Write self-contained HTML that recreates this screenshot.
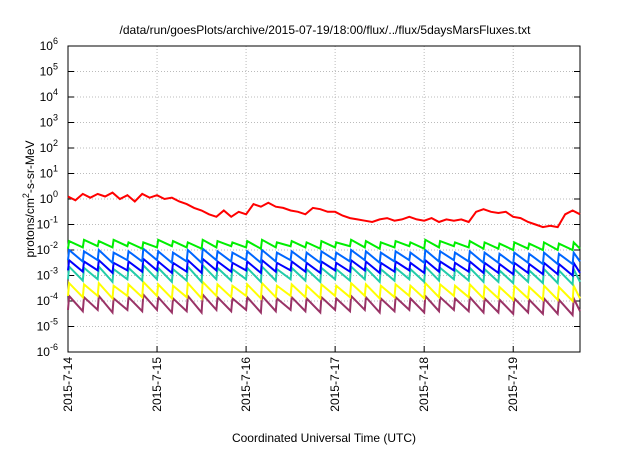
<!DOCTYPE html>
<html><head><meta charset="utf-8"><style>
body{margin:0;background:#fff;}
svg text{font-family:"Liberation Sans",sans-serif;fill:#000;}
</style></head><body>
<svg id="c" width="640" height="448"></svg>
<script>
const dayLabels=["2015-7-14","2015-7-15","2015-7-16","2015-7-17","2015-7-18","2015-7-19"];
const yExponents=[-6,-5,-4,-3,-2,-1,0,1,2,3,4,5,6];
const redHours=[0,2,4,6,8,10,12,14,16,18,20,22,24,26,28,30,32,34,36,38,40,42,44,46,48,50,52,54,56,58,60,62,64,66,68,70,72,74,76,78,80,82,84,86,88,90,92,94,96,98,100,102,104,106,108,110,112,114,116,118,120,122,124,126,128,130,132,134,136,138];
const redLog=[0.1,-0.05,0.2,0.05,0.2,0.1,0.25,0.0,0.15,-0.1,0.2,0.05,0.15,0.0,0.05,-0.1,-0.2,-0.35,-0.45,-0.6,-0.7,-0.45,-0.7,-0.5,-0.6,-0.2,-0.3,-0.15,-0.3,-0.35,-0.45,-0.5,-0.6,-0.35,-0.4,-0.5,-0.5,-0.65,-0.75,-0.8,-0.85,-0.9,-0.8,-0.75,-0.85,-0.8,-0.7,-0.8,-0.85,-0.75,-0.9,-0.8,-0.85,-0.8,-0.9,-0.5,-0.4,-0.5,-0.55,-0.5,-0.7,-0.75,-0.9,-1.0,-1.1,-1.05,-1.1,-0.6,-0.45,-0.6];
const hours=[0,0.3,4,4.3,8,8.3,12,12.3,16,16.3,20,20.3,24,24.3,28,28.3,32,32.3,36,36.3,40,40.3,44,44.3,48,48.3,52,52.3,56,56.3,60,60.3,64,64.3,68,68.3,72,72.3,76,76.3,80,80.3,84,84.3,88,88.3,92,92.3,96,96.3,100,100.3,104,104.3,108,108.3,112,112.3,116,116.3,120,120.3,124,124.3,128,128.3,132,132.3,136,136.3,138];
const greenLog=[-1.95,-1.65,-1.9,-1.6,-1.85,-1.65,-1.9,-1.6,-1.85,-1.7,-1.95,-1.7,-1.9,-1.6,-1.85,-1.65,-1.9,-1.7,-1.95,-1.6,-1.9,-1.65,-1.85,-1.7,-1.9,-1.65,-1.95,-1.6,-1.9,-1.7,-1.85,-1.65,-1.9,-1.7,-1.95,-1.65,-1.9,-1.7,-1.85,-1.6,-1.9,-1.65,-1.95,-1.7,-1.9,-1.65,-1.85,-1.7,-1.95,-1.6,-1.9,-1.65,-1.85,-1.7,-1.9,-1.65,-1.95,-1.7,-1.95,-1.75,-2.0,-1.7,-1.95,-1.75,-2.0,-1.7,-2.0,-1.75,-2.0,-1.7,-1.95];
const lightBlueLog=[-2.4,-2.0,-2.45,-2.05,-2.4,-2.0,-2.5,-2.1,-2.4,-2.05,-2.45,-1.95,-2.4,-2.05,-2.5,-2.1,-2.45,-2.0,-2.5,-1.95,-2.4,-2.05,-2.45,-2.1,-2.4,-2.05,-2.5,-2.0,-2.45,-2.1,-2.4,-2.05,-2.45,-2.1,-2.5,-2.05,-2.4,-2.1,-2.45,-2.0,-2.4,-2.05,-2.5,-2.1,-2.45,-2.05,-2.4,-2.1,-2.5,-2.0,-2.45,-2.05,-2.4,-2.1,-2.45,-2.05,-2.5,-2.1,-2.5,-2.15,-2.55,-2.1,-2.5,-2.15,-2.55,-2.1,-2.55,-2.15,-2.55,-2.1,-2.45];
const blueLog=[-2.8,-2.4,-2.85,-2.45,-2.8,-2.4,-2.9,-2.5,-2.8,-2.45,-2.85,-2.35,-2.8,-2.45,-2.9,-2.5,-2.85,-2.4,-2.9,-2.35,-2.8,-2.45,-2.85,-2.5,-2.8,-2.45,-2.9,-2.4,-2.85,-2.5,-2.8,-2.45,-2.85,-2.5,-2.9,-2.45,-2.8,-2.5,-2.85,-2.4,-2.8,-2.45,-2.9,-2.5,-2.85,-2.45,-2.8,-2.5,-2.9,-2.4,-2.85,-2.45,-2.8,-2.5,-2.85,-2.45,-2.9,-2.5,-2.9,-2.55,-2.95,-2.5,-2.9,-2.55,-2.95,-2.5,-2.95,-2.55,-3.0,-2.5,-2.9];
const tealLog=[-3.15,-2.65,-3.2,-2.7,-3.15,-2.65,-3.25,-2.75,-3.15,-2.7,-3.2,-2.6,-3.15,-2.7,-3.25,-2.75,-3.2,-2.65,-3.25,-2.6,-3.15,-2.7,-3.2,-2.75,-3.15,-2.7,-3.25,-2.65,-3.2,-2.75,-3.15,-2.7,-3.2,-2.75,-3.25,-2.7,-3.15,-2.75,-3.2,-2.65,-3.15,-2.7,-3.25,-2.75,-3.2,-2.7,-3.15,-2.75,-3.25,-2.65,-3.2,-2.7,-3.15,-2.75,-3.2,-2.7,-3.25,-2.75,-3.25,-2.8,-3.3,-2.75,-3.25,-2.8,-3.3,-2.75,-3.3,-2.8,-3.35,-2.75,-3.25];
const yellowLog=[-3.8,-3.3,-3.85,-3.35,-3.8,-3.3,-3.9,-3.4,-3.8,-3.35,-3.85,-3.25,-3.8,-3.35,-3.9,-3.4,-3.85,-3.3,-3.9,-3.25,-3.8,-3.35,-3.85,-3.4,-3.8,-3.35,-3.9,-3.3,-3.85,-3.4,-3.8,-3.35,-3.85,-3.4,-3.9,-3.35,-3.8,-3.4,-3.85,-3.3,-3.8,-3.35,-3.9,-3.4,-3.85,-3.35,-3.8,-3.4,-3.9,-3.3,-3.85,-3.35,-3.8,-3.4,-3.85,-3.35,-3.9,-3.4,-3.9,-3.45,-3.95,-3.4,-3.9,-3.45,-3.95,-3.4,-3.95,-3.45,-4.0,-3.4,-3.9];
const purpleLog=[-4.35,-3.8,-4.4,-3.85,-4.35,-3.8,-4.45,-3.9,-4.35,-3.85,-4.4,-3.75,-4.35,-3.85,-4.45,-3.9,-4.4,-3.8,-4.45,-3.75,-4.35,-3.85,-4.4,-3.9,-4.35,-3.85,-4.45,-3.8,-4.4,-3.9,-4.35,-3.85,-4.4,-3.9,-4.45,-3.85,-4.35,-3.9,-4.4,-3.8,-4.35,-3.85,-4.45,-3.9,-4.4,-3.85,-4.35,-3.9,-4.45,-3.8,-4.4,-3.85,-4.35,-3.9,-4.4,-3.85,-4.45,-3.9,-4.45,-3.95,-4.5,-3.9,-4.45,-3.95,-4.5,-3.9,-4.5,-3.95,-4.55,-3.9,-4.4];

const NS="http://www.w3.org/2000/svg";
const svg=document.getElementById('c');
const L=68,R=580,T=46,B=352;
const xMaxH=138;
function xs(h){return L+h*(R-L)/xMaxH;}
function ys(lg){return B-(lg+6)*(B-T)/12;}
function mk(tag,attrs,parent){const e=document.createElementNS(NS,tag);for(const k in attrs)e.setAttribute(k,attrs[k]);(parent||svg).appendChild(e);return e;}

yExponents.forEach((p,i)=>{
  const y=ys(p);
  if(i>0&&i<yExponents.length-1){
    const g=mk('line',{x1:L,x2:R,y1:y,y2:y,stroke:'#bbb','stroke-dasharray':'1,2','stroke-width':1});
    
    
  }
  const t1=mk('line',{x1:L,x2:L+6,y1:y,y2:y,stroke:'#000'});
  
  
  const t2=mk('line',{x1:R-6,x2:R,y1:y,y2:y,stroke:'#000'});
  
  
  const tx=mk('text',{x:58,y:y+4,'text-anchor':'end','font-size':12});
  
  
  tx.textContent='10';
  const sp=mk('tspan',{dy:-6,'font-size':9},tx);
  sp.textContent=String(p);
});
dayLabels.forEach((d,i)=>{
  const x=xs(i*24);
  if(i>0){
    const g=mk('line',{x1:x,x2:x,y1:T,y2:B,stroke:'#bbb','stroke-dasharray':'1,2','stroke-width':1});
    
    
  }
  const t=mk('line',{x1:x,x2:x,y1:B-6,y2:B,stroke:'#000'});
  
  
  const tx=mk('text',{x:0,y:0,'text-anchor':'end','font-size':12,transform:`translate(${x+4},${B+5}) rotate(-90)`});
  
  
  tx.textContent=d;
});
const frame=mk('rect',{x:L,y:T,width:R-L,height:B-T,fill:'none',stroke:'#000','stroke-width':1});



const series=[[purpleLog,hours,'#993366','series-purple'],[yellowLog,hours,'#ffff00','series-yellow'],[tealLog,hours,'#22ccaa','series-teal'],[blueLog,hours,'#0000ff','series-blue'],[lightBlueLog,hours,'#0066ff','series-light-blue'],[greenLog,hours,'#00ee00','series-green'],[redLog,redHours,'#ff0000','series-red']];
series.forEach(([vals,hs,col,name])=>{
  const n=Math.min(vals.length,hs.length);
  const pts=[];
  for(let i=0;i<n;i++)pts.push(xs(hs[i]).toFixed(1)+','+ys(vals[i]).toFixed(1));
  const pl=mk('polyline',{points:pts.join(' '),fill:'none',stroke:col,'stroke-width':2,'stroke-linejoin':'miter'});
  
  
});

const title=mk('text',{x:325,y:34,'text-anchor':'middle','font-size':12});


title.textContent='/data/run/goesPlots/archive/2015-07-19/18:00/flux/../flux/5daysMarsFluxes.txt';
const xt=mk('text',{x:324,y:442,'text-anchor':'middle','font-size':12});


xt.textContent='Coordinated Universal Time (UTC)';
const yt=mk('text',{x:0,y:0,'text-anchor':'middle','font-size':12,transform:'translate(34,199) rotate(-90)'});


yt.textContent='protons/cm';
const s2=mk('tspan',{dy:-5,'font-size':9},yt);s2.textContent='2';
const s3=mk('tspan',{dy:5},yt);s3.textContent='-s-sr-MeV';
</script>
</body></html>
